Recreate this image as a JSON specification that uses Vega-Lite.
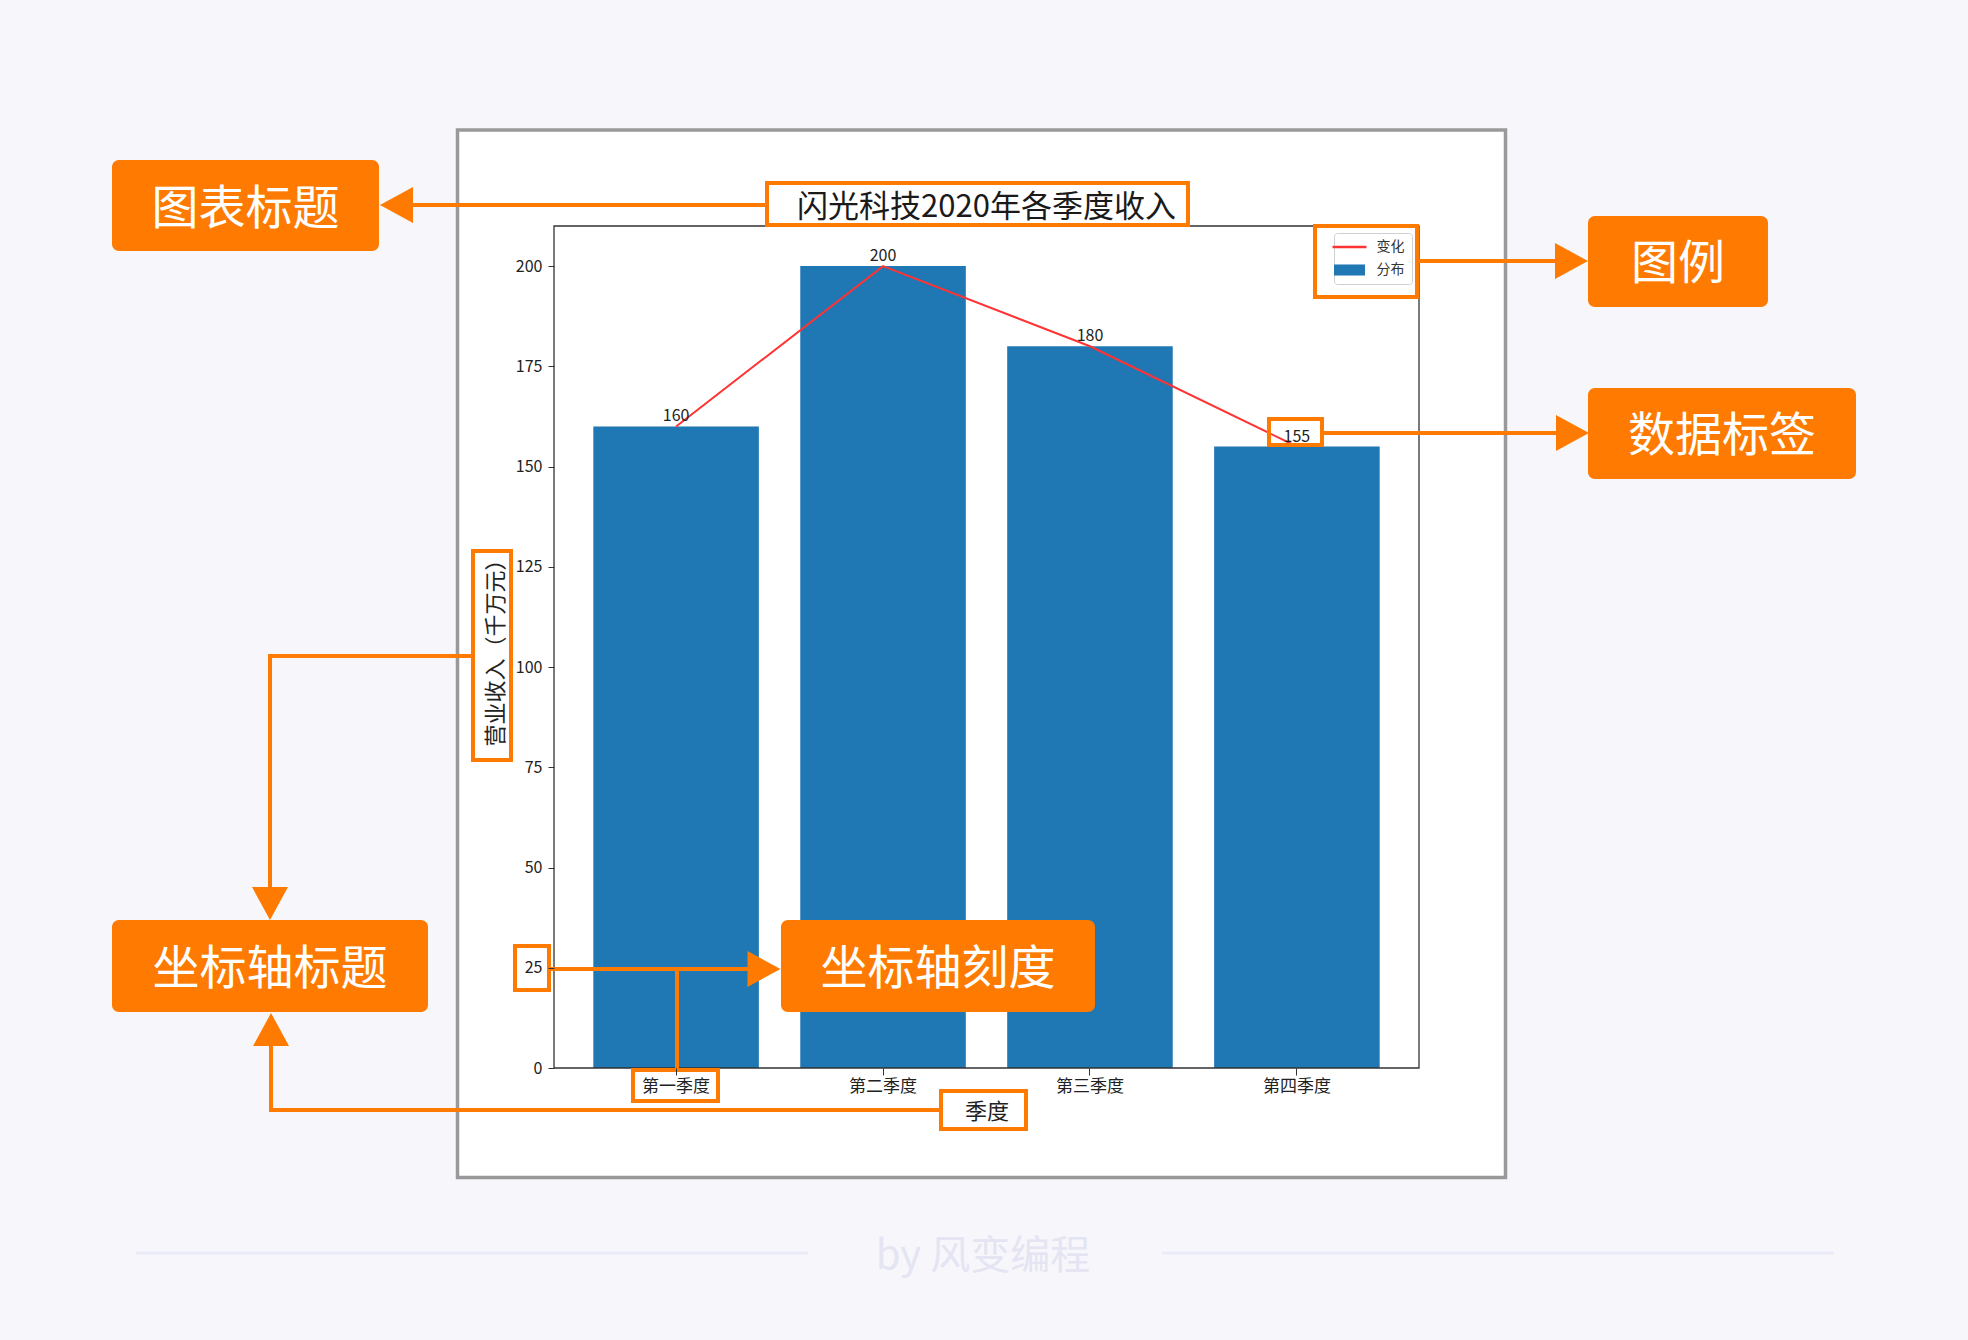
{
  "$schema": "https://vega.github.io/schema/vega-lite/v6.json",
  "width": 865,
  "height": 842,
  "autosize": {"type": "none"},
  "padding": {"left": 554, "top": 226, "right": 549, "bottom": 272},
  "background": "#f7f7fb",
  "config": {"view": {"stroke": null}, "font": "Noto Sans CJK SC"},
  "datasets": {
    "revenue": [
      {"quarter": "第一季度", "revenue": 160},
      {"quarter": "第二季度", "revenue": 200},
      {"quarter": "第三季度", "revenue": 180},
      {"quarter": "第四季度", "revenue": 155}
    ],
    "panel": [{"x": -1.0563, "x2": 4.008, "y": 233.95, "y2": -27.31}],
    "footerLines": [
      {"x": -2.6099, "x2": 0.6374, "y": -46.14, "y2": -46.14},
      {"x": 2.348, "x2": 5.5954, "y": -46.14, "y2": -46.14}
    ],
    "footerText": [{"x": 1.483, "y": -46.27, "text": "by 风变编程"}],
    "chartTitle": [{"x": 1.5, "y": 215.24, "text": "闪光科技2020年各季度收入"}],
    "frame": [{"x": -0.59, "x2": 3.59, "y": 0, "y2": 210}],
    "callouts": [
      {"label": "图表标题", "x": -2.7259, "x2": -1.4357, "y": 226.46, "y2": 203.77, "cx": -2.0808, "cy": 215.11},
      {"label": "图例", "x": 4.4066, "x2": 5.2764, "y": 212.5, "y2": 189.8, "cx": 4.8415, "cy": 201.15},
      {"label": "数据标签", "x": 4.4066, "x2": 5.7017, "y": 169.6, "y2": 146.9, "cx": 5.0541, "cy": 158.25},
      {"label": "坐标轴标题", "x": -2.7259, "x2": -1.1989, "y": 36.91, "y2": 13.97, "cx": -1.9624, "cy": 25.44},
      {"label": "坐标轴刻度", "x": 0.5069, "x2": 2.0243, "y": 36.91, "y2": 13.97, "cx": 1.2656, "cy": 25.44}
    ],
    "outlines": [
      {"target": "title", "x": 0.4393, "x2": 2.4737, "y": 220.73, "y2": 210.25},
      {"target": "legend", "x": 3.0874, "x2": 3.5803, "y": 210.0, "y2": 192.29},
      {"target": "label155", "x": 2.8651, "x2": 3.1212, "y": 161.87, "y2": 155.38},
      {"target": "ytitle", "x": -0.9814, "x2": -0.7978, "y": 128.94, "y2": 76.82},
      {"target": "tick25", "x": -0.7785, "x2": -0.6142, "y": 30.43, "y2": 19.45},
      {"target": "xtick1", "x": -0.2083, "x2": 0.2025, "y": -0.5, "y2": -8.23},
      {"target": "xtitle", "x": 1.2801, "x2": 1.6909, "y": -5.74, "y2": -15.21}
    ],
    "segments": [
      {"x": -1.2714, "x2": 0.4393, "y": 215.24, "y2": 215.24},
      {"x": 3.5803, "x2": 4.2472, "y": 201.27, "y2": 201.27},
      {"x": 3.1212, "x2": 4.252, "y": 158.37, "y2": 158.37},
      {"x": -1.9624, "x2": -0.9814, "y": 102.76, "y2": 102.76},
      {"x": -1.9624, "x2": -1.9624, "y": 102.76, "y2": 45.14},
      {"x": -1.9575, "x2": 1.2801, "y": -10.48, "y2": -10.48},
      {"x": -1.9575, "x2": -1.9575, "y": -10.48, "y2": 5.24},
      {"x": -0.6142, "x2": 0.3426, "y": 24.69, "y2": 24.69},
      {"x": 0.0044, "x2": 0.0044, "y": 24.69, "y2": -0.5}
    ],
    "arrows": [
      {"x": -1.3511, "y": 215.24, "dir": "left"},
      {"x": 4.3269, "y": 201.27, "dir": "right"},
      {"x": 4.3317, "y": 158.37, "dir": "right"},
      {"x": -1.9624, "y": 41.03, "dir": "down"},
      {"x": -1.9575, "y": 9.6, "dir": "up"},
      {"x": 0.4248, "y": 24.69, "dir": "right"}
    ]
  },
  "resolve": {"scale": {"x": "independent", "y": "independent"}},
  "layer": [
    {
      "layer": [
        {
          "data": {"name": "panel"},
          "mark": {"type": "rect", "fill": "#ffffff", "stroke": "#999999", "strokeWidth": 3.5},
          "encoding": {
            "x": {"field": "x", "type": "quantitative", "scale": {"domain": [-0.59, 3.59], "nice": false, "zero": false}, "axis": null},
            "x2": {"field": "x2"},
            "y": {"field": "y", "type": "quantitative", "scale": {"domain": [0, 210], "nice": false, "zero": false}, "axis": null},
            "y2": {"field": "y2"}
          }
        },
        {
          "data": {"name": "footerLines"},
          "mark": {"type": "rule", "stroke": "#ebebf8", "strokeWidth": 3},
          "encoding": {
            "x": {"field": "x", "type": "quantitative", "scale": {"domain": [-0.59, 3.59], "nice": false, "zero": false}, "axis": null},
            "x2": {"field": "x2"},
            "y": {"field": "y", "type": "quantitative", "scale": {"domain": [0, 210], "nice": false, "zero": false}, "axis": null},
            "y2": {"field": "y2"}
          }
        },
        {
          "data": {"name": "footerText"},
          "mark": {"type": "text", "fontSize": 40, "color": "#e4e4f2", "baseline": "middle", "align": "center", "dy": 3},
          "encoding": {
            "x": {"field": "x", "type": "quantitative", "scale": {"domain": [-0.59, 3.59], "nice": false, "zero": false}, "axis": null},
            "y": {"field": "y", "type": "quantitative", "scale": {"domain": [0, 210], "nice": false, "zero": false}, "axis": null},
            "text": {"field": "text"}
          }
        }
      ]
    },
    {
      "data": {"name": "revenue"},
      "layer": [
        {
          "mark": {"type": "bar"},
          "encoding": {
            "x": {"field": "quarter", "type": "nominal", "sort": null, "scale": {"paddingInner": 0.2, "paddingOuter": 0.19},
              "axis": {"title": "季度", "orient": "bottom", "zindex": 1, "labelAngle": 0, "labelFontSize": 17, "labelColor": "#222222", "labelPadding": 3, "tickSize": 7, "tickColor": "#333333", "domain": false, "titleFontSize": 22, "titleFontWeight": "normal", "titleColor": "#222222", "titlePadding": 7, "grid": false}},
            "y": {"field": "revenue", "type": "quantitative", "scale": {"domain": [0, 210], "nice": false},
              "axis": {"title": "营业收入（千万元）", "orient": "left", "zindex": 1, "values": [0, 25, 50, 75, 100, 125, 150, 175, 200], "labelFontSize": 16, "labelColor": "#222222", "labelPadding": 6, "tickSize": 6, "tickColor": "#333333", "domain": false, "titleFontSize": 22, "titleFontWeight": "normal", "titleColor": "#222222", "titlePadding": 8, "grid": false}},
            "color": {"datum": "分布", "type": "nominal",
              "scale": {"domain": ["变化", "分布"], "range": ["#ff3333", "#1f77b4"]},
              "legend": {"orient": "top-right", "offset": 7, "title": null, "padding": 7, "labelFontSize": 14, "labelColor": "#333333", "labelOffset": 20, "symbolOffset": 1.5, "symbolSize": 144, "rowPadding": 9, "strokeColor": "#d0d0d0", "fillColor": "#ffffff", "cornerRadius": 3, "symbolOpacity": 1,
                "symbolType": {"expr": "datum.value === '变化' ? 'M-2.83,0H2.83' : 'M-2.58,-0.92H2.58V0.92H-2.58Z'"},
                "symbolStrokeColor": {"expr": "datum.value === '变化' ? '#ff3333' : '#1f77b4'"},
                "symbolStrokeWidth": {"expr": "datum.value === '变化' ? 2.5 : 0"}}}
          }
        },
        {
          "mark": {"type": "line", "strokeWidth": 2},
          "encoding": {
            "x": {"field": "quarter", "type": "nominal", "sort": null},
            "y": {"field": "revenue", "type": "quantitative"},
            "color": {"datum": "变化", "type": "nominal"}
          }
        },
        {
          "mark": {"type": "text", "baseline": "alphabetic", "dy": -5, "fontSize": 16, "color": "#222222"},
          "encoding": {
            "x": {"field": "quarter", "type": "nominal", "sort": null},
            "y": {"field": "revenue", "type": "quantitative"},
            "text": {"field": "revenue", "type": "quantitative", "format": "d"}
          }
        }
      ]
    },
    {
      "layer": [
        {
          "data": {"name": "frame"},
          "mark": {"type": "rect", "fill": null, "stroke": "#333333", "strokeWidth": 1.3},
          "encoding": {
            "x": {"field": "x", "type": "quantitative", "scale": {"domain": [-0.59, 3.59], "nice": false, "zero": false}, "axis": null},
            "x2": {"field": "x2"},
            "y": {"field": "y", "type": "quantitative", "scale": {"domain": [0, 210], "nice": false, "zero": false}, "axis": null},
            "y2": {"field": "y2"}
          }
        },
        {
          "data": {"name": "chartTitle"},
          "mark": {"type": "text", "fontSize": 31, "color": "#1a1a1a", "baseline": "middle", "align": "center", "dy": 3},
          "encoding": {
            "x": {"field": "x", "type": "quantitative", "scale": {"domain": [-0.59, 3.59], "nice": false, "zero": false}, "axis": null},
            "y": {"field": "y", "type": "quantitative", "scale": {"domain": [0, 210], "nice": false, "zero": false}, "axis": null},
            "text": {"field": "text"}
          }
        },
        {
          "data": {"name": "outlines"},
          "mark": {"type": "rect", "fill": null, "stroke": "#ff7a00", "strokeWidth": 4},
          "encoding": {
            "x": {"field": "x", "type": "quantitative", "scale": {"domain": [-0.59, 3.59], "nice": false, "zero": false}, "axis": null},
            "x2": {"field": "x2"},
            "y": {"field": "y", "type": "quantitative", "scale": {"domain": [0, 210], "nice": false, "zero": false}, "axis": null},
            "y2": {"field": "y2"}
          }
        },
        {
          "data": {"name": "segments"},
          "mark": {"type": "rule", "color": "#ff7a00", "strokeWidth": 4, "strokeCap": "square"},
          "encoding": {
            "x": {"field": "x", "type": "quantitative", "scale": {"domain": [-0.59, 3.59], "nice": false, "zero": false}, "axis": null},
            "x2": {"field": "x2"},
            "y": {"field": "y", "type": "quantitative", "scale": {"domain": [0, 210], "nice": false, "zero": false}, "axis": null},
            "y2": {"field": "y2"}
          }
        },
        {
          "data": {"name": "arrows"},
          "mark": {"type": "point", "filled": true, "opacity": 1, "color": "#ff7a00", "size": 1296, "strokeWidth": 0},
          "encoding": {
            "x": {"field": "x", "type": "quantitative", "scale": {"domain": [-0.59, 3.59], "nice": false, "zero": false}, "axis": null},
            "y": {"field": "y", "type": "quantitative", "scale": {"domain": [0, 210], "nice": false, "zero": false}, "axis": null},
            "shape": {"field": "dir", "type": "nominal", "legend": null,
              "scale": {"domain": ["left", "right", "up", "down"], "range": ["M-0.917,0L0.917,-1L0.917,1Z", "M0.917,0L-0.917,-1L-0.917,1Z", "M0,-0.917L-1,0.917L1,0.917Z", "M0,0.917L-1,-0.917L1,-0.917Z"]}}
          }
        },
        {
          "data": {"name": "callouts"},
          "mark": {"type": "rect", "color": "#ff7a00", "cornerRadius": 7},
          "encoding": {
            "x": {"field": "x", "type": "quantitative", "scale": {"domain": [-0.59, 3.59], "nice": false, "zero": false}, "axis": null},
            "x2": {"field": "x2"},
            "y": {"field": "y", "type": "quantitative", "scale": {"domain": [0, 210], "nice": false, "zero": false}, "axis": null},
            "y2": {"field": "y2"}
          }
        },
        {
          "data": {"name": "callouts"},
          "mark": {"type": "text", "fontSize": 47, "color": "#ffffff", "baseline": "middle", "align": "center", "dy": 4},
          "encoding": {
            "x": {"field": "cx", "type": "quantitative", "scale": {"domain": [-0.59, 3.59], "nice": false, "zero": false}, "axis": null},
            "y": {"field": "cy", "type": "quantitative", "scale": {"domain": [0, 210], "nice": false, "zero": false}, "axis": null},
            "text": {"field": "label"}
          }
        }
      ]
    }
  ]
}
